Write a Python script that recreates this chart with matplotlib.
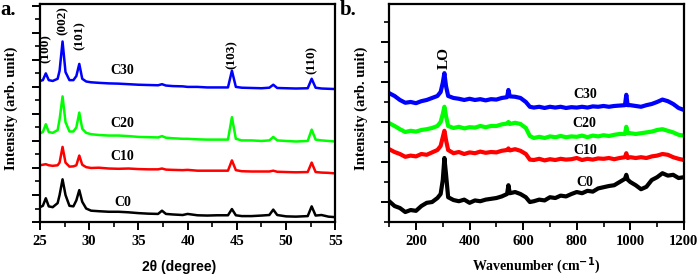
import matplotlib
matplotlib.use('Agg')
import matplotlib.pyplot as plt
from matplotlib.ticker import MultipleLocator

# ---- XRD data (panel a) ----
tth = [25.0, 25.3, 25.6, 25.9, 26.3, 26.8, 27.0, 27.3, 27.6, 28.0, 28.4, 28.7,
       29.0, 29.3, 29.7, 30.2, 31, 32, 33, 34, 35, 36, 37, 37.4, 37.8, 38.5,
       39.5, 40, 41, 42, 43, 44.1, 44.5, 44.9, 45.5, 46.5, 47.5, 48.3, 48.7,
       49.1, 50, 51, 52.2, 52.6, 53.0, 53.6, 54.3, 55.0]
xrd_c0 = [0.55, 0.6, 0.88, 0.58, 0.55, 0.7, 1.0, 1.58, 1.0, 0.6, 0.58, 0.8,
          1.18, 0.75, 0.5, 0.42, 0.4, 0.38, 0.38, 0.36, 0.33, 0.31, 0.3, 0.42,
          0.3, 0.28, 0.26, 0.3, 0.25, 0.24, 0.25, 0.25, 0.48, 0.25, 0.22, 0.22,
          0.24, 0.26, 0.46, 0.26, 0.21, 0.2, 0.22, 0.58, 0.24, 0.26, 0.2, 0.18]
xrd_c10 = [2.1, 2.12, 2.14, 2.1, 2.08, 2.1, 2.2, 2.78, 2.2, 2.05, 2.06, 2.1,
           2.46, 2.12, 2.03, 2.0, 2.01, 1.98, 1.97, 1.98, 1.96, 1.95, 1.95, 1.98,
           1.94, 1.93, 1.92, 1.93, 1.9, 1.9, 1.9, 1.9, 2.28, 1.92, 1.88, 1.87,
           1.87, 1.87, 1.9, 1.86, 1.85, 1.84, 1.85, 2.2, 1.85, 1.83, 1.82, 1.8]
xrd_c20 = [3.28, 3.33, 3.62, 3.33, 3.3, 3.4, 3.8, 4.65, 3.7, 3.35, 3.35, 3.5,
           4.05, 3.45, 3.3, 3.25, 3.22, 3.2, 3.2, 3.18, 3.15, 3.14, 3.13, 3.18,
           3.12, 3.1, 3.08, 3.08, 3.06, 3.05, 3.05, 3.05, 3.88, 3.08, 3.02, 3.02,
           3.0, 3.02, 3.15, 3.02, 3.0, 2.98, 3.0, 3.42, 3.05, 3.02, 3.0, 2.98]
xrd_c30 = [5.22, 5.25, 5.5, 5.25, 5.22, 5.3, 5.6, 6.68, 5.55, 5.25, 5.25, 5.4,
           5.85, 5.3, 5.2, 5.17, 5.15, 5.13, 5.12, 5.1, 5.08, 5.07, 5.06, 5.1,
           5.05, 5.03, 5.02, 5.0, 5.0, 4.98, 4.98, 4.98, 5.6, 5.0, 4.97, 4.96,
           4.95, 4.97, 5.08, 4.96, 4.95, 4.94, 4.95, 5.3, 4.97, 4.94, 4.93, 4.92]
hkl_labels = ['(100)', '(002)', '(101)', '(103)', '(110)']
hkl_x = [25.6, 27.3, 29.0, 44.5, 52.6]
hkl_y = [6.4, 7.45, 6.9, 6.2, 6.0]

# ---- Raman data (panel b) ----
wn = [100, 120, 140, 160, 180, 200, 220, 240, 260, 280, 292, 300, 306, 312,
      320, 340, 360, 380, 400, 420, 440, 460, 480, 500, 520, 540, 545, 550,
      570, 590, 610, 625, 640, 660, 680, 700, 720, 740, 760, 780, 800, 820,
      840, 860, 880, 900, 920, 940, 960, 980, 985, 990, 1000, 1020, 1040,
      1060, 1080, 1100, 1120, 1140, 1160, 1180, 1200]
ram_c0 = [0.02, -0.1, -0.15, -0.25, -0.2, -0.22, -0.1, -0.02, 0.0, 0.1, 0.2,
          0.55, 1.1, 0.7, 0.12, 0.05, 0.02, 0.06, -0.02, 0.04, 0.02, 0.06, 0.08,
          0.1, 0.14, 0.2, 0.42, 0.22, 0.25, 0.2, 0.12, 0.0, 0.02, 0.06, 0.04,
          0.12, 0.1, 0.16, 0.14, 0.2, 0.25, 0.22, 0.28, 0.26, 0.34, 0.37, 0.4,
          0.42, 0.5, 0.58, 0.68, 0.56, 0.5, 0.42, 0.32, 0.38, 0.55, 0.62, 0.72,
          0.66, 0.68, 0.6, 0.62]
ram_c10 = [1.32, 1.25, 1.2, 1.13, 1.16, 1.14, 1.2, 1.18, 1.24, 1.3, 1.4, 1.62,
           1.78, 1.55, 1.3, 1.22, 1.25, 1.2, 1.24, 1.22, 1.26, 1.23, 1.25,
           1.24, 1.28, 1.3, 1.34, 1.29, 1.32, 1.28, 1.2, 1.06, 1.05, 1.08,
           1.04, 1.07, 1.05, 1.08, 1.06, 1.07, 1.1, 1.05, 1.08, 1.06, 1.09,
           1.08, 1.1, 1.07, 1.1, 1.12, 1.22, 1.1, 1.12, 1.1, 1.12, 1.1, 1.14,
           1.16, 1.2, 1.18, 1.12, 1.08, 1.05]
ram_c20 = [1.97, 1.9, 1.82, 1.75, 1.78, 1.76, 1.8, 1.82, 1.85, 1.9, 2.0, 2.2,
           2.38, 2.15, 1.9, 1.85, 1.88, 1.84, 1.87, 1.86, 1.9, 1.87, 1.9, 1.9,
           1.94, 1.96, 2.0, 1.95, 1.98, 1.95, 1.85, 1.65, 1.6, 1.63, 1.6, 1.64,
           1.62, 1.65, 1.62, 1.64, 1.63, 1.66, 1.62, 1.66, 1.64, 1.67, 1.65,
           1.68, 1.7, 1.7, 1.88, 1.72, 1.72, 1.7, 1.72, 1.74, 1.76, 1.8, 1.82,
           1.78, 1.74, 1.68, 1.66]
ram_c30 = [2.72, 2.65, 2.55, 2.48, 2.5, 2.47, 2.52, 2.55, 2.6, 2.65, 2.75,
           2.98, 3.22, 2.9, 2.65, 2.6, 2.58, 2.55, 2.58, 2.55, 2.57, 2.54,
           2.57, 2.56, 2.6, 2.62, 2.8, 2.64, 2.63, 2.6, 2.5, 2.38, 2.36, 2.38,
           2.35, 2.38, 2.36, 2.38, 2.35, 2.37, 2.36, 2.38, 2.36, 2.39, 2.38,
           2.4, 2.38, 2.4, 2.41, 2.42, 2.68, 2.42, 2.42, 2.4, 2.38, 2.42, 2.45,
           2.5, 2.56, 2.52, 2.45, 2.35, 2.3]

serif = 'Liberation Serif'
sans = 'Liberation Sans'
colors = ['black', 'red', '#00ff00', 'blue']
names = ['C0', 'C10', 'C20', 'C30']

fig = plt.figure(figsize=(7, 2.8), dpi=100)
axa = fig.add_axes([0.057, 0.207, 0.422, 0.779])
axb = fig.add_axes([0.556, 0.207, 0.421, 0.779])

# panel a
for ys, c in zip([xrd_c0, xrd_c10, xrd_c20, xrd_c30], colors):
    axa.plot(tth, ys, color=c, lw=1.8)
lab_y_a = [0.74, 2.44, 3.63, 5.6]
for n, yy in zip(names, lab_y_a):
    axa.text(33.4, yy, n, ha='center', va='center', fontsize=10,
             fontweight='bold', family=serif)
for lbl, xx, yy in zip(hkl_labels, hkl_x, hkl_y):
    axa.text(xx, yy, lbl, rotation=90, ha='center', va='center', fontsize=9.5,
             fontweight='bold', family=serif)
axa.set_xlim(25, 55)
axa.set_ylim(0, 8.07)
axa.xaxis.set_major_locator(MultipleLocator(5))
axa.xaxis.set_minor_locator(MultipleLocator(2.5))
axa.yaxis.set_major_locator(MultipleLocator(1))
axa.yaxis.set_minor_locator(MultipleLocator(0.5))
axa.set_yticklabels([])
axa.set_xlabel('2θ (degree)', fontsize=10, fontweight='bold', family=sans)
axa.xaxis.set_label_coords(0.47, -0.175)
axa.set_ylabel('Intensity (arb. unit)', fontsize=10.5, fontweight='bold', family=serif)
axa.yaxis.set_label_coords(-0.075, 0.52)

# panel b
for ys, c in zip([ram_c0, ram_c10, ram_c20, ram_c30], colors):
    axb.plot(wn, ys, color=c, lw=3)
lab_y_b = [0.48, 1.28, 1.95, 2.68]
for n, yy in zip(names, lab_y_b):
    axb.text(830, yy, n, ha='center', va='center', fontsize=10,
             fontweight='bold', family=serif)
axb.text(305, 3.6, 'LO', rotation=90, ha='center', va='center', fontsize=11,
         fontweight='bold', family=serif)
axb.set_xlim(100, 1200)
axb.set_ylim(-0.5, 4.95)
axb.xaxis.set_major_locator(MultipleLocator(200))
axb.xaxis.set_minor_locator(MultipleLocator(100))
axb.yaxis.set_major_locator(MultipleLocator(1))
axb.yaxis.set_minor_locator(MultipleLocator(0.5))
axb.set_yticklabels([])
axb.set_xlabel('Wavenumber (cm$^{\\mathbf{-1}}$)', fontsize=10, fontweight='bold',
               family=serif)
axb.xaxis.set_label_coords(0.5, -0.15)
axb.set_ylabel('Intensity (arb. unit)', fontsize=10.5, fontweight='bold', family=serif)
axb.yaxis.set_label_coords(-0.072, 0.52)

for ax in (axa, axb):
    for s in ax.spines.values():
        s.set_linewidth(1.6)
    ax.tick_params(which='major', length=6, width=1.4, direction='out')
    ax.tick_params(which='minor', length=3.5, width=1.2, direction='out')
    for t in ax.get_xticklabels():
        t.set_fontfamily(serif)
        t.set_fontweight('bold')
        t.set_fontsize(10.5)

fig.text(0.0, 1.0, 'a.', ha='left', va='top', fontsize=15, fontweight='bold',
         family=serif)
fig.text(0.486, 1.0, 'b.', ha='left', va='top', fontsize=15, fontweight='bold',
         family=serif)

plt.savefig('out.png', dpi=100)
